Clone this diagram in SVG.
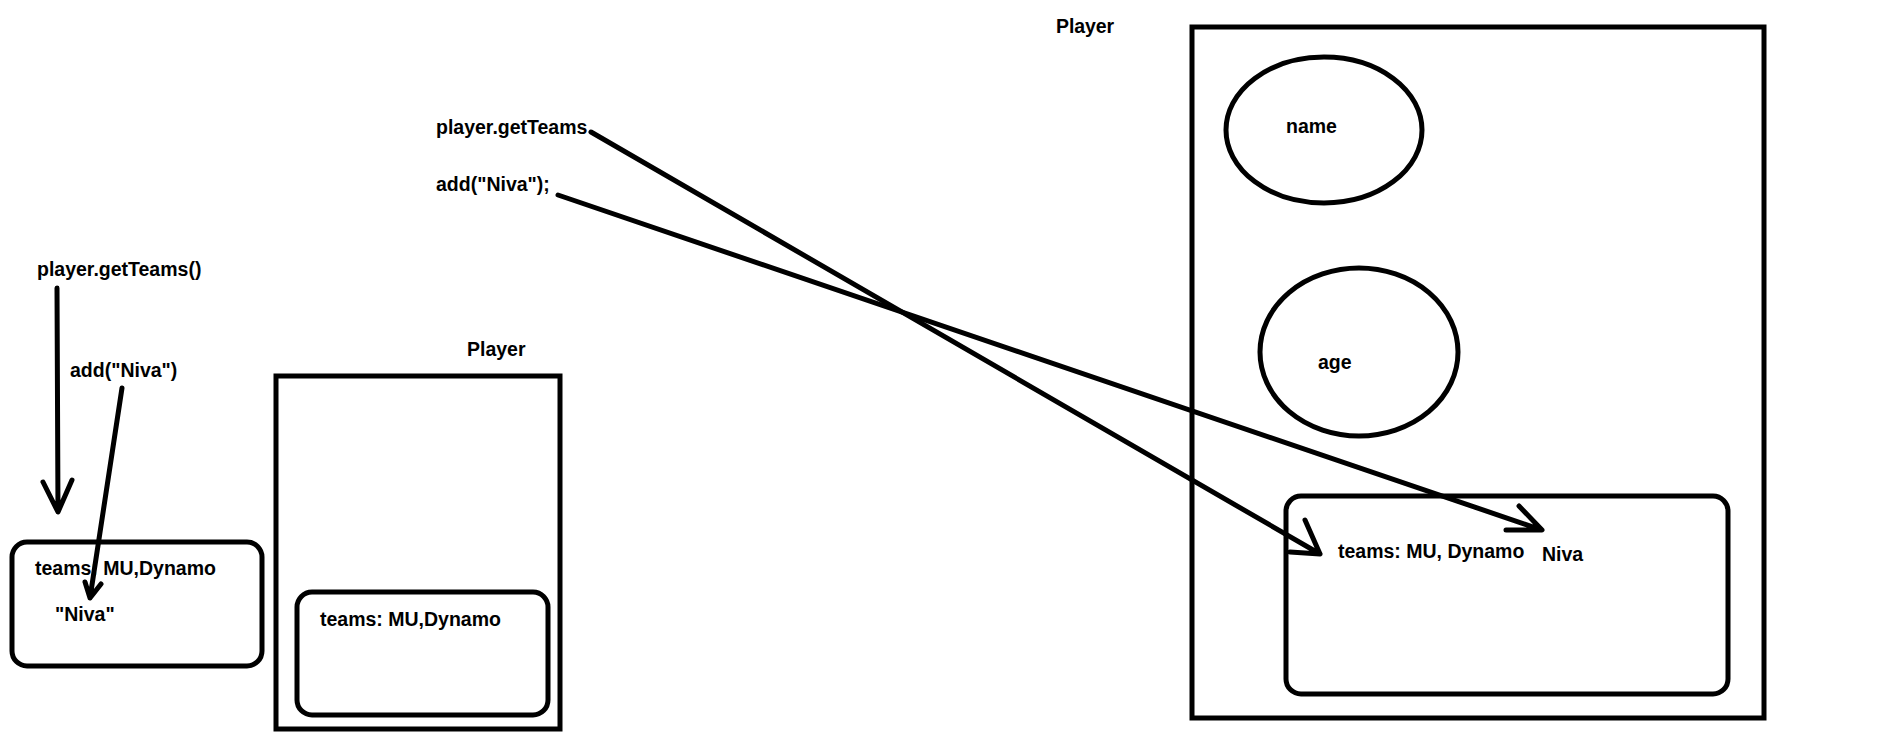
<svg xmlns="http://www.w3.org/2000/svg" width="1878" height="748" viewBox="0 0 1878 748">
<style>
.t{font-family:"Liberation Sans",Arial,sans-serif;font-weight:bold;font-size:19.5px;fill:#000}
.s{fill:none;stroke:#000;stroke-width:5}
.c{fill:none;stroke:#000;stroke-width:5;stroke-linecap:round;stroke-linejoin:round}
</style>
<rect width="1878" height="748" fill="#fff"/>
<g id="left-teams">
<rect class="s" x="12" y="542" width="250" height="124" rx="15"/>
<text class="t" x="35" y="575">teams: MU,Dynamo</text>
<text class="t" x="55" y="621">"Niva"</text>
</g>
<g id="left-labels">
<text class="t" x="37" y="276">player.getTeams()</text>
<text class="t" x="70" y="377">add("Niva")</text>
</g>
<g id="middle-player">
<text class="t" x="467" y="356">Player</text>
<rect class="s" x="276" y="376" width="284" height="353"/>
<rect class="s" x="297" y="592" width="251" height="123" rx="15"/>
<text class="t" x="320" y="626">teams: MU,Dynamo</text>
</g>
<g id="center-labels">
<text class="t" x="436" y="134">player.getTeams</text>
<text class="t" x="436" y="191">add("Niva");</text>
</g>
<g id="right-player">
<text class="t" x="1056" y="33" textLength="58">Player</text>
<rect class="s" x="1192" y="27" width="572" height="691"/>
<ellipse class="s" cx="1324" cy="130" rx="98" ry="73"/>
<text class="t" x="1286" y="133">name</text>
<ellipse class="s" cx="1359" cy="352" rx="99" ry="84"/>
<text class="t" x="1318" y="369">age</text>
<rect class="s" x="1286" y="496" width="442" height="198" rx="15"/>
<text class="t" x="1338" y="558">teams: MU, Dynamo</text>
<text class="t" x="1542" y="561">Niva</text>
</g>
<g id="connectors">
<path class="c" d="M57,288 L58,512 M43,482 L58,512 L72,480"/>
<path class="c" d="M122,388 L90,598 M85,582 L90,598 L101,584"/>
<path class="c" d="M591,132 L1320,554 M1305,520 L1320,554 L1290,552"/>
<path class="c" d="M558,195 L1542,530 M1519,506 L1542,530 L1506,530"/>
</g>
</svg>
